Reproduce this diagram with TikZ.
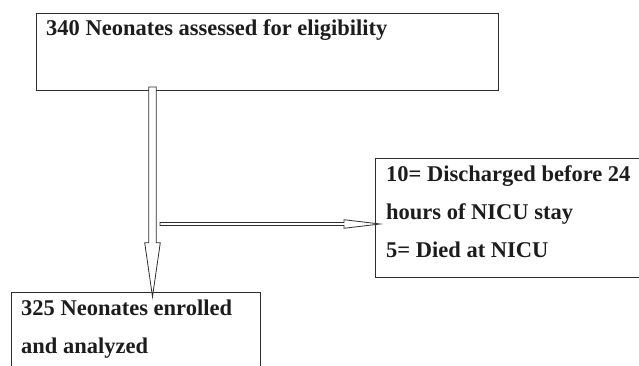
\documentclass[tikz,border=0pt]{standalone}
\usepackage{fontspec}
\setmainfont{Liberation Serif}
\usetikzlibrary{arrows.meta, positioning, calc}
\definecolor{fcline}{RGB}{45,45,45}
\definecolor{fctext}{RGB}{28,28,28}
\tikzset{
    box/.style={draw=fcline, line width=1pt, anchor=north west, inner sep=0pt},
    txt/.style={inner sep=0pt, align=flush left, text=fctext, font=\bfseries\fontsize{22.5}{38}\selectfont},
    downarrow/.style={draw=fcline, line width=0.8pt, fill=white, to path={
        let \p1=(\tikztostart), \p2=(\tikztotarget) in
        (\x1-3.7pt,\y1) -- (\x1+3.7pt,\y1) -- (\x1+3.7pt,\y2+54pt) -- (\x1+7.8pt,\y2+54pt)
        -- (\x2,\y2) -- (\x1-7.8pt,\y2+54pt) -- (\x1-3.7pt,\y2+54pt) -- cycle}},
    rightarrow/.style={draw=fcline, line width=0.8pt, fill=white, to path={
        let \p1=(\tikztostart), \p2=(\tikztotarget) in
        (\x1,\y1+1.5pt) -- (\x2-36pt,\y1+1.5pt) -- (\x2-36pt,\y1+4.3pt) -- (\x2,\y2)
        -- (\x2-36pt,\y1-4.3pt) -- (\x2-36pt,\y1-1.5pt) -- (\x1,\y1-1.5pt) -- cycle}},
}

\begin{document}
\begin{tikzpicture}[x=1pt, y=-1pt]
    \useasboundingbox (0,0) rectangle (639,366);
    \node[box, minimum width=462pt, minimum height=77pt] (screened) at (36,13) {};
    \node[box, minimum width=280pt, minimum height=119pt] (excluded) at (374.7,157.7) {};
    \node[box, minimum width=249pt, minimum height=90pt] (enrolled) at (11,292.3) {};
    \node[txt, text width=440pt, below right=23pt and 10pt of screened.north west, anchor=base west] (screenedtxt)
        {340 Neonates assessed for eligibility};
    \node[txt, text width=260pt, below right=24pt and 11.3pt of excluded.north west, anchor=base west] (excludedtxt)
        {10= Discharged before 24\\hours of NICU stay\\5= Died at NICU};
    \node[txt, text width=235pt, below right=22.7pt and 10pt of enrolled.north west, anchor=base west] (enrolledtxt)
        {325 Neonates enrolled\\and analyzed};
    \coordinate (vaxis) at (152.5,87);
    \coordinate (branch) at (160,224);
    \coordinate (vtip) at ($(enrolled.north -| vaxis)+(0,4.4)$);
    \coordinate (htip) at ($(branch -| excluded.west)+(5.3,0)$);
    \draw[downarrow] (vaxis) to (vtip);
    \draw[rightarrow] (branch) to (htip);
\end{tikzpicture}
\end{document}
